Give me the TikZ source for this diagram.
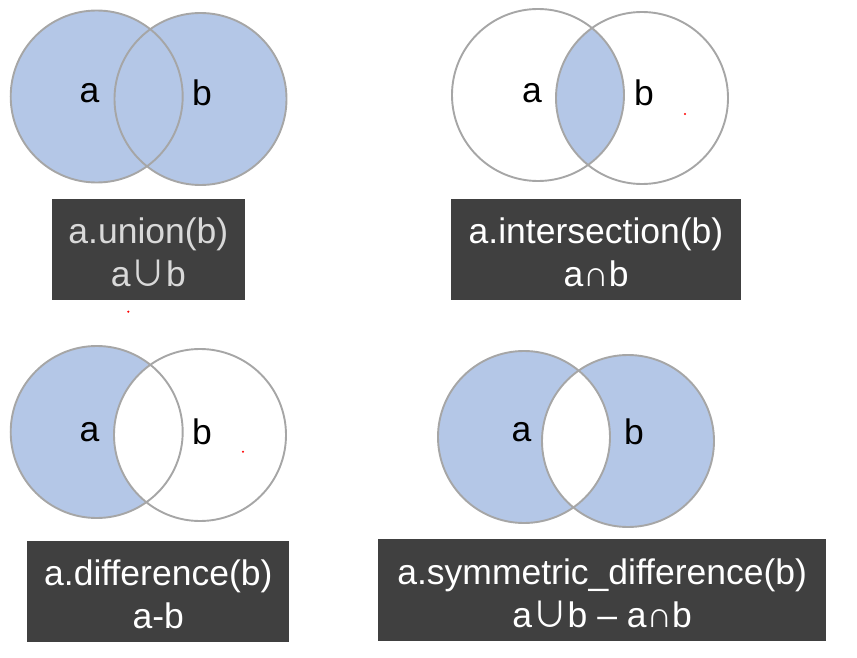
\documentclass[tikz,border=0pt]{standalone}
\usepackage{fontspec}
\setmainfont{Liberation Sans}
\newfontfamily\cjk{Noto Sans CJK SC}
\definecolor{setblue}{HTML}{B4C7E7}
\definecolor{ringgray}{HTML}{A6A6A6}
\definecolor{boxgray}{HTML}{404040}
\definecolor{softtext}{HTML}{D9D9D9}
\tikzset{
  ring/.style={draw=ringgray, line width=1.9pt},
  setfill/.style={fill=setblue},
  letter/.style={font=\fontsize{35.5}{43}\selectfont, text=black, inner sep=0pt},
  opbox/.style={fill=boxgray},
  optext/.style={text=white, align=center, inner sep=0pt,
    font=\fontsize{35.5}{43}\selectfont},
  speck/.style={fill=red, draw=none}
}
\begin{document}
\begin{tikzpicture}[x=1pt,y=-1pt]
\useasboundingbox (0,0) rectangle (857,658);
\def\R{86}
% centres
\coordinate (ua) at (96.7,96.5);  \coordinate (ub) at (200.5,99);
\coordinate (ia) at (538,95);     \coordinate (ib) at (642,98);
\coordinate (da) at (96.7,432);   \coordinate (db) at (200,435);
\coordinate (sa) at (524,437);    \coordinate (sb) at (628,441);

% union
\fill[setfill] (ua) circle (\R) (ub) circle (\R);
\draw[ring] (ua) circle (\R) (ub) circle (\R);
\node[letter] (ula) at (89.5,93) {a};
\node[letter] (ulb) at (202,93) {b};

% intersection
\begin{scope}
  \clip (ia) circle (\R);
  \fill[setfill] (ib) circle (\R);
\end{scope}
\draw[ring] (ia) circle (\R) (ib) circle (\R);
\node[letter] (ila) at (532,93) {a};
\node[letter] (ilb) at (644,93) {b};

% difference
\fill[setfill] (da) circle (\R);
\begin{scope}
  \clip (da) circle (\R);
  \fill[white] (db) circle (\R);
\end{scope}
\draw[ring] (da) circle (\R) (db) circle (\R);
\node[letter] (dla) at (89.5,432) {a};
\node[letter] (dlb) at (202,432) {b};

% symmetric difference
\fill[setfill, even odd rule] (sa) circle (\R) (sb) circle (\R);
\draw[ring] (sa) circle (\R) (sb) circle (\R);
\node[letter] (sla) at (521.5,432) {a};
\node[letter] (slb) at (634,432) {b};

% caption boxes
\fill[opbox] (52,199) rectangle (244.7,300);
\node[optext, text=softtext] (utext) at (148.4,252.5)
  {a.union(b)\\a{\cjk ∪}b};
\fill[opbox] (451,199) rectangle (741,300);
\node[optext] (itext) at (596,252.5)
  {a.intersection(b)\\a∩b};
\fill[opbox] (27.3,541) rectangle (289.3,641.7);
\node[optext] (dtext) at (158.3,594.3)
  {a.difference(b)\\a-b};
\fill[opbox] (378.3,539) rectangle (826,641);
\node[optext] (stext) at (602.2,593)
  {a.symmetric\_difference(b)\\a{\cjk ∪}b – a∩b};

% stray red specks
\fill[speck] (685,114) circle (1.2);
\fill[speck] (128.3,311.7) circle (1.2);
\fill[speck] (243,451.7) circle (1.2);
\end{tikzpicture}
\end{document}
